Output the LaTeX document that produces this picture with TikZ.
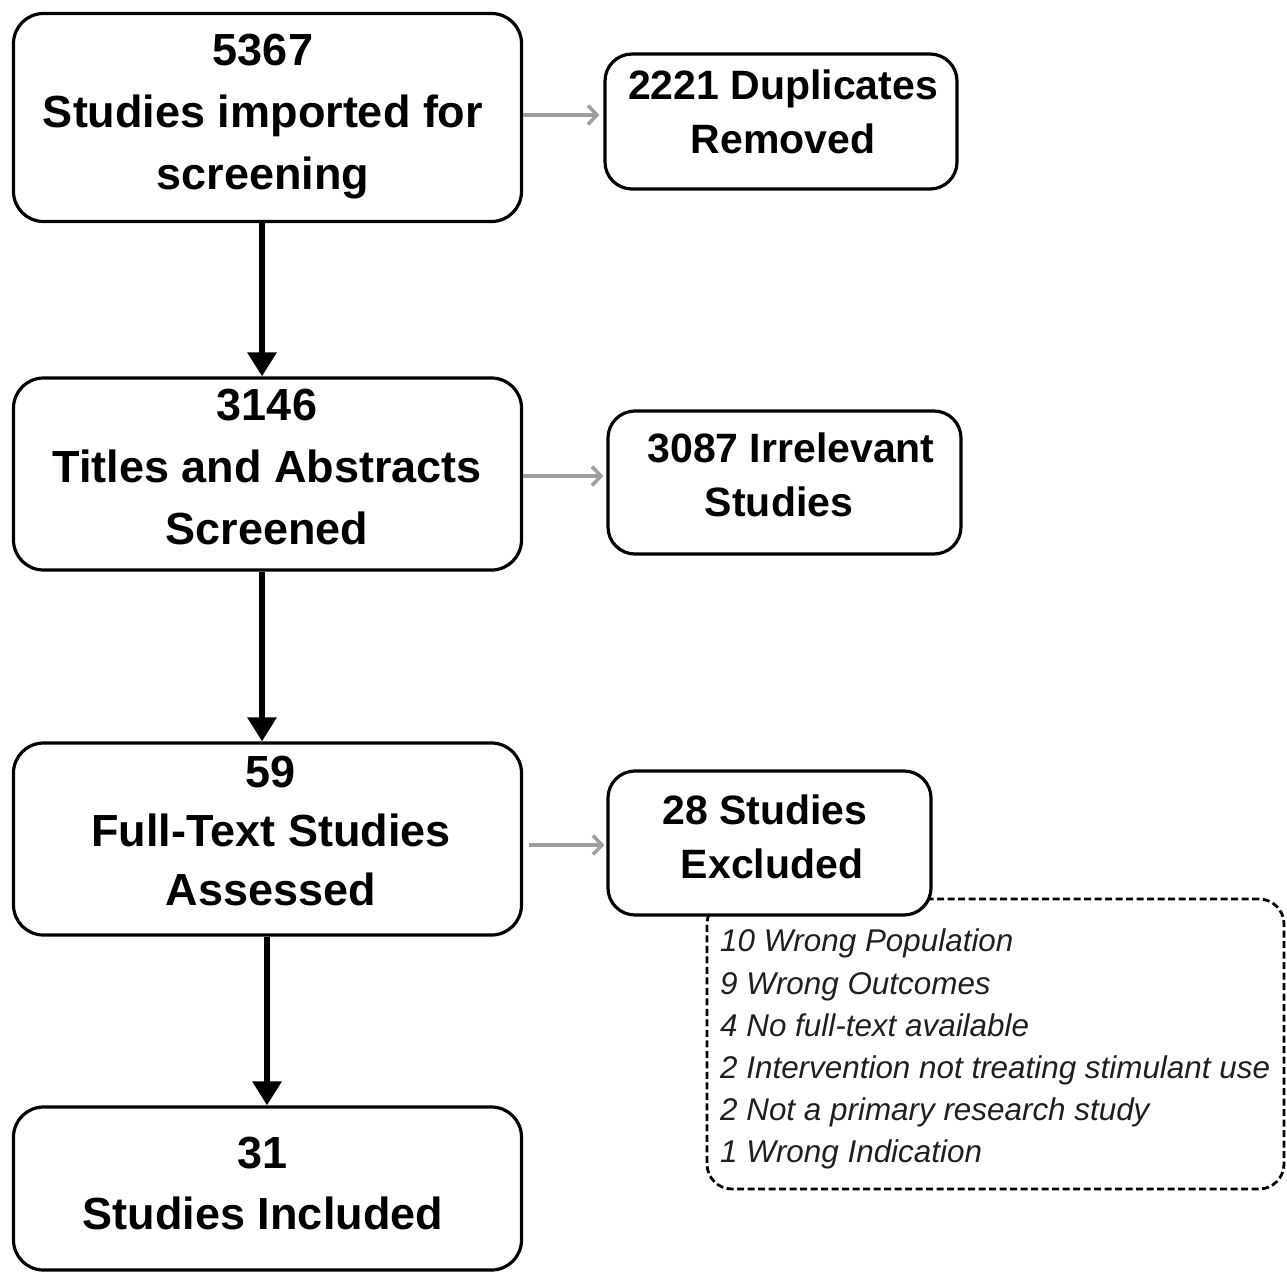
\documentclass[tikz,border=0pt]{standalone}
\usepackage{fontspec}
\setmainfont{Liberation Sans}
\usetikzlibrary{arrows.meta}
\begin{document}
\begin{tikzpicture}[x=1pt,y=-1pt,
  box/.style={draw=black, line width=3.2pt, rounded corners=30pt, fill=white, inner sep=0pt},
  sbox/.style={draw=black, line width=3.2pt, rounded corners=27pt, fill=white, inner sep=0pt},
  dbox/.style={draw=black, line width=2.8pt, dash pattern=on 7pt off 3.5pt, rounded corners=25pt, inner sep=0pt},
  bigtxt/.style={font=\bfseries\fontsize{45}{62}\selectfont, align=center, inner sep=0pt, anchor=north},
  smalltxt/.style={font=\bfseries\fontsize{41}{54}\selectfont, align=center, inner sep=0pt, anchor=north},
  listtxt/.style={font=\itshape\fontsize{31.4}{42.2}\selectfont, text=black!88, align=left, inner sep=0pt, anchor=north west},
  mainarrow/.style={draw=black, line width=6.5pt, -{Triangle[width=28pt,length=24pt]}},
  sidearrow/.style={draw=black!38, line width=3.5pt, -{Straight Barb[length=9pt,width=19pt,line width=3.5pt]}},
]
\useasboundingbox (0,0) rectangle (1287,1274);

% dashed box (behind the excluded box)
\node[dbox, minimum width=577pt, minimum height=290pt] (reasons) at (995.5,1044) {};

% main boxes
\node[box, minimum width=508pt, minimum height=208pt] (b1) at (267.5,117.5) {};
\node[box, minimum width=508pt, minimum height=192pt] (b2) at (267.5,474) {};
\node[box, minimum width=508pt, minimum height=192pt] (b3) at (267.5,839) {};
\node[box, minimum width=508pt, minimum height=163pt] (b4) at (267.5,1188.5) {};

% side boxes
\node[sbox, minimum width=352pt, minimum height=135pt] (s1) at (781,121.5) {};
\node[sbox, minimum width=353pt, minimum height=143pt] (s2) at (784.5,482.5) {};
\node[sbox, minimum width=323pt, minimum height=144pt] (s3) at (769.5,843) {};

% texts
\node[bigtxt] (t1) at (263,34) {5367\\Studies imported for\\screening};
\node[bigtxt] (t2) at (267,389) {3146\\Titles and Abstracts\\Screened};
\node[bigtxt, font=\bfseries\fontsize{45}{59}\selectfont] (t3) at (271,756) {59\\Full-Text Studies\\Assessed};
\node[bigtxt, font=\bfseries\fontsize{45}{61}\selectfont] (t4) at (263,1137) {31\\Studies Included};

\node[smalltxt] (u1) at (783,70) {2221 Duplicates\\Removed};
\node[smalltxt] (u2) at (791,433) {3087 Irrelevant\\\hspace*{-24pt}Studies};
\node[smalltxt] (u3) at (765,795) {28 Studies\\\hspace*{14pt}Excluded};

\node[listtxt] (l1) at (720,929) {10 Wrong Population\\9 Wrong Outcomes\\4 No full-text available\\2 Intervention not treating stimulant use\\2 Not a primary research study\\1 Wrong Indication};

% main flow arrows
\draw[mainarrow] (b1.south -| 262,0) -- (b2.north -| 262,0);
\draw[mainarrow] (b2.south -| 262,0) -- (b3.north -| 262,0);
\draw[mainarrow] (b3.south -| 267,0) -- (b4.north -| 267,0);

% side arrows
\draw[sidearrow] (b1.east |- 0,115) -- ([xshift=-4pt]s1.west |- 0,115);
\draw[sidearrow] (b2.east |- 0,476) -- ([xshift=-3pt]s2.west |- 0,476);
\draw[sidearrow] ([xshift=6pt]b3.east |- 0,845) -- ([xshift=-2pt]s3.west |- 0,845);
\end{tikzpicture}
\end{document}
